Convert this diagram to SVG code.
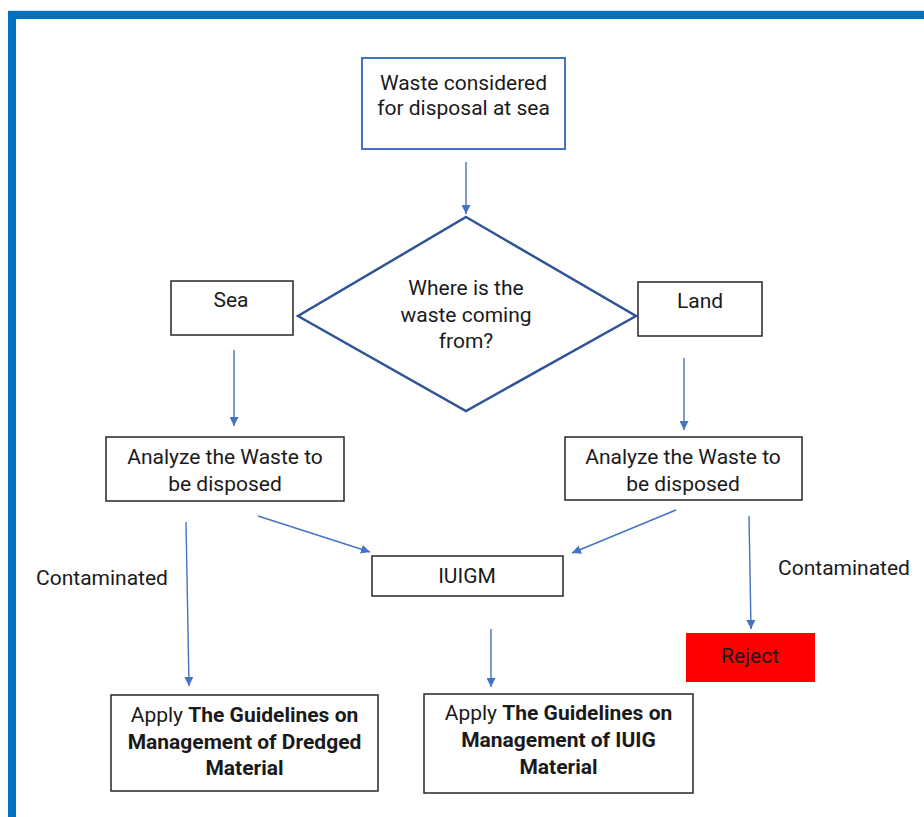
<svg xmlns="http://www.w3.org/2000/svg" width="924" height="817" viewBox="0 0 924 817">
<style>
.t{font-family:Roboto,"Liberation Sans",sans-serif;font-size:21px;fill:#1a1a1a;text-anchor:middle}
.b{font-weight:bold}
.box{fill:#fff;stroke:#262626;stroke-width:1.5}
.c{stroke:#4472C4;stroke-width:1.4;fill:none;marker-end:url(#ah)}
</style>
<defs>
<marker id="ah" viewBox="0 0 10 10" refX="10" refY="5" markerWidth="9" markerHeight="9" markerUnits="userSpaceOnUse" orient="auto">
<path d="M0,0 L10,5 L0,10 z" fill="#4472C4"/>
</marker>
</defs>
<rect width="924" height="817" fill="#fff"/>
<line x1="8" y1="10.5" x2="924" y2="10.5" stroke="#dde6ee" stroke-width="1"/>
<path d="M12,817 V15 H924" fill="none" stroke="#0070C0" stroke-width="8"/>

<g id="connectors">
<line class="c" x1="466" y1="162" x2="466" y2="214"/>
<line class="c" x1="234" y1="350" x2="234" y2="426"/>
<line class="c" x1="684" y1="358" x2="684" y2="430"/>
<line class="c" x1="258" y1="516" x2="370" y2="552"/>
<line class="c" x1="676" y1="510" x2="572" y2="553"/>
<line class="c" x1="186" y1="522" x2="189" y2="686"/>
<line class="c" x1="491" y1="629" x2="491" y2="687"/>
<line class="c" x1="749" y1="516" x2="751" y2="629"/>
</g>

<g id="start">
<rect x="362" y="58" width="203" height="91" fill="#fff" stroke="#4472C4" stroke-width="2"/>
<text class="t" x="463.5" y="90">Waste considered</text>
<text class="t" x="463.5" y="115">for disposal at sea</text>
</g>

<g id="decision">
<polygon points="466,217 636,316 466,411 298,316" fill="#fff" stroke="#2F5597" stroke-width="2.5"/>
<text class="t" x="466" y="295">Where is the</text>
<text class="t" x="466" y="322">waste coming</text>
<text class="t" x="466" y="348">from?</text>
</g>

<g id="sea">
<rect class="box" x="171" y="281" width="122" height="54"/>
<text class="t" x="231" y="307">Sea</text>
</g>

<g id="land">
<rect class="box" x="638" y="282" width="124" height="54"/>
<text class="t" x="700" y="308">Land</text>
</g>

<g id="analyze-sea">
<rect class="box" x="106" y="437" width="238" height="64"/>
<text class="t" x="225" y="464">Analyze the Waste to</text>
<text class="t" x="225" y="491">be disposed</text>
</g>

<g id="analyze-land">
<rect class="box" x="565" y="437" width="237" height="63"/>
<text class="t" x="683" y="464">Analyze the Waste to</text>
<text class="t" x="683" y="491">be disposed</text>
</g>

<g id="iuigm">
<rect class="box" x="372" y="556" width="191" height="40"/>
<text class="t" x="467" y="583">IUIGM</text>
</g>

<g id="label-left">
<text class="t" x="102" y="585">Contaminated</text>
</g>

<g id="label-right">
<text class="t" x="844" y="575">Contaminated</text>
</g>

<g id="reject">
<rect x="686" y="633" width="129" height="49" fill="#FF0000"/>
<text class="t" x="750" y="663">Reject</text>
</g>

<g id="dredged">
<rect class="box" x="111" y="695" width="267" height="96"/>
<text class="t" x="244.5" y="722">Apply <tspan class="b">The Guidelines on</tspan></text>
<text class="t b" x="244.5" y="749">Management of Dredged</text>
<text class="t b" x="244.5" y="775">Material</text>
</g>

<g id="iuig">
<rect class="box" x="424" y="694" width="269" height="99"/>
<text class="t" x="558.5" y="720">Apply <tspan class="b">The Guidelines on</tspan></text>
<text class="t b" x="558.5" y="747">Management of IUIG</text>
<text class="t b" x="558.5" y="774">Material</text>
</g>
</svg>
